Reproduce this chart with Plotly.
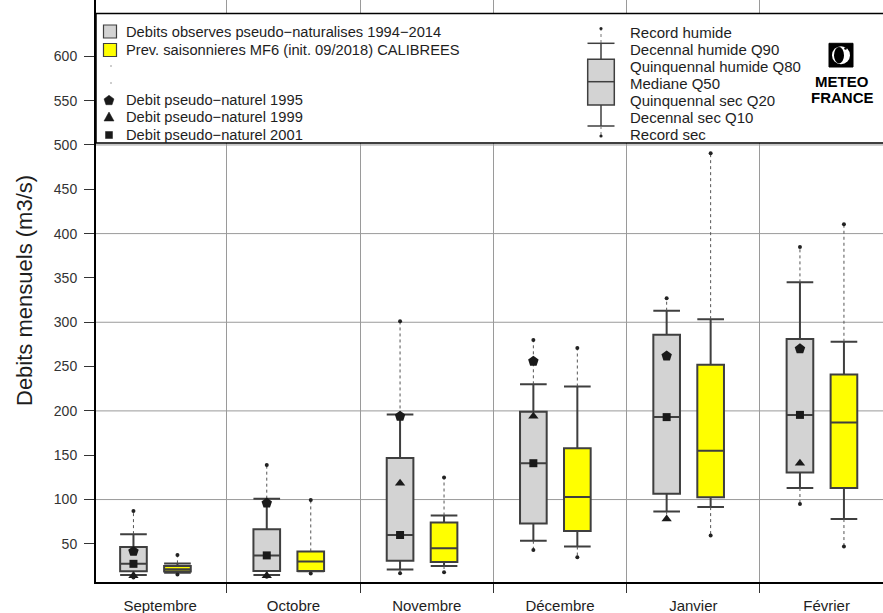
import math
import plotly.graph_objects as go

# ---------------- data ----------------
months = ["Septembre", "Octobre", "Novembre", "Décembre", "Janvier", "Février"]

obs_rec_hum = [87, 139, 301, 280, 327, 385]
obs_q90 = [61, 101, 196, 230, 313, 345]
obs_q80 = [46.5, 66.5, 147, 199, 286, 281]
obs_q50 = [27.5, 37, 60, 141, 193, 195.5]
obs_q20 = [19, 19.5, 31, 73, 106.5, 130.5]
obs_q10 = [15, 15, 21, 53.5, 86.5, 113]
obs_rec_sec = [12, 13, 17, 43, 78, 95]

prev_rec_hum = [37.5, 99.5, 125, 271, 490.5, 410.5]
prev_q90 = [28, 41.5, 82, 227.5, 303.5, 278]
prev_q80 = [25, 41.5, 74, 158, 252, 241]
prev_q50 = [21.5, 30, 45, 103, 155, 187]
prev_q20 = [18.8, 19.5, 29.5, 64.5, 102.5, 113]
prev_q10 = [17.5, 19, 25, 47, 91.5, 78]
prev_rec_sec = [15.5, 16.5, 18, 35, 59.5, 47]

y1995 = [41.5, 96, 194, 256, 262, 270]
y1999 = [14, 14, 118.5, 194, 78, 141]
y2001 = [27.5, 37, 60, 141, 193, 195.5]

ytick_vals = [50, 100, 150, 200, 250, 300, 350, 400, 450, 500, 550, 600]
ygrid_vals = [100, 200, 300, 400, 500, 600]

legend_left = [
    "Debits observes pseudo\u2212naturalises 1994\u22122014",
    "Prev. saisonnieres MF6 (init. 09/2018) CALIBREES",
    "Debit pseudo\u2212naturel 1995",
    "Debit pseudo\u2212naturel 1999",
    "Debit pseudo\u2212naturel 2001",
]
legend_right = [
    "Record humide",
    "Decennal humide Q90",
    "Quinquennal humide Q80",
    "Mediane Q50",
    "Quinquennal sec Q20",
    "Decennal sec Q10",
    "Record sec",
]

# ---------------- style ----------------
FONT = "Liberation Sans"
EDGE = "#3f3f3f"
GRAY = "#d3d3d3"
YEL = "#ffff00"
GRID = "#9a9a9a"
TXT = "#1e1e1e"
W, H = 883, 613
L, B, T, R = 96, 31, 0, 0
PW, PH = W - L - R, H - B - T

def px(x):
    return (x - L) / PW

def py(y):
    return (H - B - y) / PH

n = len(months)
gx = [i - 0.2 for i in range(n)]
yx = [i + 0.13 for i in range(n)]

fig = go.Figure()

def dotted(xs, q90, rh, q10, rs):
    X, Y = [], []
    for x, a, b, c, d in zip(xs, q90, rh, q10, rs):
        X += [x, x, None, x, x, None]
        Y += [a, b, None, c, d, None]
    return go.Scatter(x=X, y=Y, mode="lines", line=dict(color="#555", width=1, dash="dot"),
                      hoverinfo="skip", showlegend=False)

fig.add_trace(dotted(gx, obs_q90, obs_rec_hum, obs_q10, obs_rec_sec))
fig.add_trace(dotted(yx, prev_q90, prev_rec_hum, prev_q10, prev_rec_sec))

def box(xs, q10, q20, q50, q80, q90, fill):
    return go.Box(x=xs, q1=q20, median=q50, q3=q80, lowerfence=q10, upperfence=q90,
                  orientation="v", width=0.2, whiskerwidth=1, fillcolor=fill,
                  line=dict(color=EDGE, width=2), boxpoints=False,
                  showlegend=False, hoverinfo="skip")

fig.add_trace(box(gx, obs_q10, obs_q20, obs_q50, obs_q80, obs_q90, GRAY))
fig.add_trace(box(yx, prev_q10, prev_q20, prev_q50, prev_q80, prev_q90, YEL))

fig.add_trace(go.Scatter(x=gx + gx + yx + yx, y=obs_rec_hum + obs_rec_sec + prev_rec_hum + prev_rec_sec,
                         mode="markers", marker=dict(color="#222", size=4),
                         hoverinfo="skip", showlegend=False))

for vals, sym, sz in [(y1995, "pentagon", 11), (y1999, "triangle-up", 9), (y2001, "square", 8)]:
    fig.add_trace(go.Scatter(x=gx, y=vals, mode="markers",
                             marker=dict(color="#1a1a1a", symbol=sym, size=sz, line=dict(width=0)),
                             hoverinfo="skip", showlegend=False))

shapes = []
for v in ygrid_vals:
    shapes.append(dict(type="line", xref="paper", yref="y", x0=0, x1=1, y0=v, y1=v,
                       line=dict(color=GRID, width=1), layer="below"))

# legend box
shapes.append(dict(type="rect", xref="paper", yref="paper", x0=px(96), x1=px(890),
                   y0=py(143), y1=py(13.5), fillcolor="white",
                   line=dict(color="black", width=1.5), layer="above"))

def prect(x0, y0, x1, y1, fill, lc=EDGE, lw=1.2):
    return dict(type="rect", xref="paper", yref="paper", x0=px(x0), x1=px(x1),
                y0=py(y1), y1=py(y0), fillcolor=fill, line=dict(color=lc, width=lw), layer="above")

def pline(x0, y0, x1, y1, color=EDGE, width=1.5, dash="solid"):
    return dict(type="line", xref="paper", yref="paper", x0=px(x0), x1=px(x1),
                y0=py(y0), y1=py(y1), line=dict(color=color, width=width, dash=dash), layer="above")

def pcircle(cx, cy, r, fill, lc=None, lw=0):
    return dict(type="circle", xref="paper", yref="paper", x0=px(cx - r), x1=px(cx + r),
                y0=py(cy + r), y1=py(cy - r), fillcolor=fill,
                line=dict(color=lc or fill, width=lw), layer="above")

def ppoly(pts, fill):
    d = "M " + " L ".join(f"{px(a):.5f},{py(b):.5f}" for a, b in pts) + " Z"
    return dict(type="path", xref="paper", yref="paper", path=d, fillcolor=fill,
                line=dict(color=fill, width=0.5), layer="above")

# left legend symbols
shapes.append(prect(103.5, 25, 116.5, 38, GRAY))
shapes.append(prect(103.5, 43.5, 116.5, 56.5, YEL))
shapes.append(pcircle(111, 66, 0.7, "#777"))
shapes.append(pcircle(111, 83, 0.7, "#777"))
pent = [(109 + 5.2 * math.cos(math.radians(-90 + 72 * k)), 100.5 + 5.2 * math.sin(math.radians(-90 + 72 * k))) for k in range(5)]
shapes.append(ppoly(pent, "#1a1a1a"))
shapes.append(ppoly([(109, 112), (114, 121), (104, 121)], "#1a1a1a"))
shapes.append(prect(105.5, 131.5, 112.5, 138.5, "#1a1a1a", lc="#1a1a1a", lw=0.5))

# right legend glyph
cx = 601
shapes.append(pline(cx, 28, cx, 43.3, color="#777", width=1, dash="dot"))
shapes.append(pline(cx, 43.3, cx, 59.3))
shapes.append(prect(587.7, 59.3, 614.3, 105, GRAY, lw=1.5))
shapes.append(pline(587.7, 81.7, 614.3, 81.7))
shapes.append(pline(cx, 105, cx, 126))
shapes.append(pline(587.5, 43.3, 614.5, 43.3))
shapes.append(pline(587.5, 126, 614.5, 126))
shapes.append(pline(cx, 126, cx, 136, color="#777", width=1, dash="dot"))
shapes.append(pcircle(cx, 28.5, 1.6, "#222"))
shapes.append(pcircle(cx, 136, 1.6, "#222"))

# logo
shapes.append(prect(829, 43.3, 853, 67, "black", lc="black", lw=1))
shapes.append(pcircle(841, 55.2, 9, "white"))
shapes.append(dict(type="circle", xref="paper", yref="paper", x0=px(834), x1=px(844),
                   y0=py(63.5), y1=py(47), fillcolor="black", line=dict(color="black", width=0),
                   layer="above"))
shapes.append(pcircle(845.5, 48.5, 1.3, "black"))

annotations = []
left_rows = [31.5, 50, 100, 117, 135]
for t, yy in zip(legend_left, left_rows):
    annotations.append(dict(text=t, xref="paper", yref="paper", x=px(124), y=py(yy),
                            xanchor="left", yanchor="middle", showarrow=False,
                            font=dict(family=FONT, size=14.7, color=TXT)))
for k, t in enumerate(legend_right):
    annotations.append(dict(text=t, xref="paper", yref="paper", x=px(627.5), y=py(32.3 + 17.1 * k),
                            xanchor="left", yanchor="middle", showarrow=False,
                            font=dict(family=FONT, size=15, color=TXT)))
for t, yy in [("METEO", 81.7), ("FRANCE", 98)]:
    annotations.append(dict(text="<b>" + t + "</b>", xref="paper", yref="paper", x=px(842), y=py(yy),
                            xanchor="center", yanchor="middle", showarrow=False,
                            font=dict(family=FONT, size=15, color="black")))
annotations.append(dict(text="Debits mensuels (m3/s)", xref="paper", yref="paper",
                        x=px(24), y=0.5, textangle=-90, xanchor="center", yanchor="middle",
                        showarrow=False, font=dict(family=FONT, size=22, color=TXT)))

fig.update_layout(
    width=W, height=H,
    margin=dict(l=L, r=R, t=T, b=B, pad=0),
    paper_bgcolor="white", plot_bgcolor="white",
    boxmode="overlay",
    shapes=shapes, annotations=annotations,
    font=dict(family=FONT, size=14, color=TXT),
    xaxis=dict(range=[-0.481, 5.423], tickmode="array", tickvals=list(range(n)), ticktext=months,
               ticks="", showline=True, linecolor="black", linewidth=2, showgrid=False,
               zeroline=False, ticklabelstandoff=9,
               tickfont=dict(family=FONT, size=15, color=TXT),
               minor=dict(tickmode="array", tickvals=[k - 0.5 for k in range(n + 1)],
                          ticks="outside", ticklen=9, tickcolor="#333", tickwidth=1,
                          showgrid=True, gridcolor=GRID, gridwidth=1)),
    yaxis=dict(range=[7, 663.5], tickmode="array", tickvals=ytick_vals, ticks="outside",
               ticklen=10, tickcolor="#333", tickwidth=1, showline=True, linecolor="black",
               linewidth=2, showgrid=False, zeroline=False, ticklabelstandoff=4,
               tickfont=dict(family=FONT, size=14, color="#333")),
)

fig.write_html("out.html", config={"displayModeBar": False},
               post_script="document.body.style.margin='0px';document.body.style.overflow='hidden';")
